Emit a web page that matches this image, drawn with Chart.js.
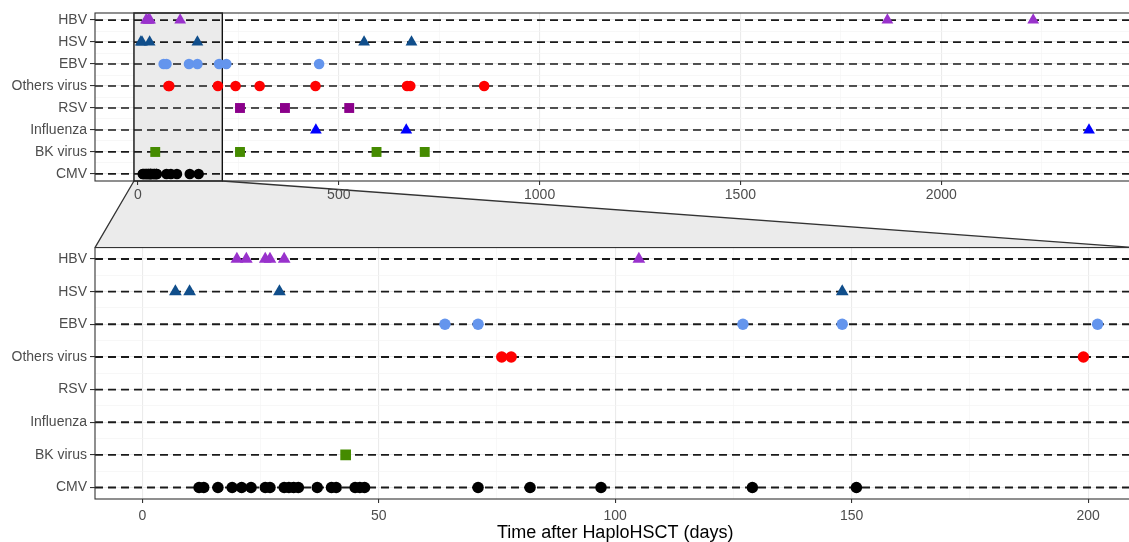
<!DOCTYPE html>
<html>
<head>
<meta charset="utf-8">
<script src="https://cdn.jsdelivr.net/npm/chart.js@4.4.1/dist/chart.umd.min.js"></script>
<style>
  html, body { margin: 0; padding: 0; background: #fff; overflow: hidden; }
  #wrap { position: relative; width: 1129px; height: 542px; overflow: hidden; }
  canvas { position: absolute; left: 0; }
  #link { top: 0; }
  #topChart { top: 0; }
  #bottomChart { top: 240px; }
</style>
</head>
<body>
<div id="wrap">
  <canvas id="link" width="1143" height="542"></canvas>
  <canvas id="topChart" width="1143" height="210"></canvas>
  <canvas id="bottomChart" width="1143" height="302"></canvas>
</div>
<script>
// rows from bottom (y=1) to top (y=8)
const rowLabels = ['CMV', 'BK virus', 'Influenza', 'RSV', 'Others virus', 'EBV', 'HSV', 'HBV']

// days after HaploHSCT for each infection
const cmvDays = [12, 13, 16, 19, 21, 23, 26, 27, 30, 31, 32, 33, 37, 40, 41, 45, 46, 47, 71, 82, 97, 129, 151]
const bkDays = [43, 254, 594, 714]
const influenzaDays = [443, 668, 2368]
const rsvDays = [254, 366, 526]
const othersDays = [76, 78, 199, 243, 303, 442, 670, 678, 862]
const ebvDays = [64, 71, 127, 148, 202, 220, 451]
const hsvDays = [7, 10, 29, 148, 563, 681]
const hbvDays = [20, 22, 26, 27, 30, 105, 1866, 2229]

const topTicks = [0, 500, 1000, 1500, 2000]
const topMinor = [250, 750, 1250, 1750, 2250]
const bottomTicks = [0, 50, 100, 150, 200]
const bottomMinor = [25, 75, 125, 175]

const topRange = [-107, 2485]
const zoomRange = [-10, 210]

const dayLists = [cmvDays, bkDays, influenzaDays, rsvDays, othersDays, ebvDays, hsvDays, hbvDays]
const colors = ['#000000', '#458B00', '#0000FF', '#8B008B', '#FF0000', '#6495ED', '#104E8B', '#9932CC']
const shapes = ['circle', 'rect', 'triangle', 'rect', 'circle', 'circle', 'triangle', 'triangle']

const FONT = "Arial, 'Liberation Sans', sans-serif"

function radiusFor(shape, big) {
    let r = shape == 'triangle' ? 6.8 : (shape == 'rect' ? 7 : 5.3)
    return big ? r * 1.08 : r
}

function makeDatasets(xr, big) {
    let ds = []
    rowLabels.forEach((name, i) => {
        ds.push({
            data: [{ x: xr[0], y: i + 1 }, { x: xr[1], y: i + 1 }],
            showLine: true,
            borderColor: '#1a1a1a',
            borderWidth: big ? 1.9 : 1.7,
            borderDash: [8, 5],
            pointRadius: 0,
            order: 2
        })
    })
    rowLabels.forEach((name, i) => {
        ds.push({
            label: name,
            data: dayLists[i].map(d => ({ x: d, y: i + 1 })),
            backgroundColor: colors[i],
            borderWidth: 0,
            pointStyle: shapes[i],
            pointRadius: radiusFor(shapes[i], big),
            order: 1
        })
    })
    return ds
}

const panelBorder = {
    id: 'panelBorder',
    afterDraw(chart) {
        const a = chart.chartArea
        const ctx = chart.ctx
        ctx.save()
        ctx.strokeStyle = '#333'
        ctx.lineWidth = 1.1
        ctx.strokeRect(a.left, a.top, a.right - a.left, a.bottom - a.top)
        ctx.restore()
    }
}

const zoomBox = {
    id: 'zoomBox',
    beforeDatasetsDraw(chart) {
        const a = chart.chartArea
        const x = chart.scales.x
        const x0 = x.getPixelForValue(zoomRange[0])
        const x1 = x.getPixelForValue(zoomRange[1])
        const ctx = chart.ctx
        ctx.save()
        ctx.fillStyle = '#ebebeb'
        ctx.fillRect(x0, a.top, x1 - x0, a.bottom - a.top)
        ctx.strokeStyle = '#111'
        ctx.lineWidth = 1.4
        ctx.strokeRect(x0, a.top, x1 - x0, a.bottom - a.top)
        ctx.restore()
    }
}

function xAxis(range, majors, minors, height, withTitle, pad) {
    return {
        type: 'linear',
        min: range[0],
        max: range[1],
        afterBuildTicks: axis => {
            axis.ticks = majors.concat(minors).sort((a, b) => a - b).map(v => ({ value: v }))
        },
        afterFit: axis => {
            axis.height = height
            axis.paddingLeft = 0
            axis.paddingRight = 0
        },
        border: { display: false },
        grid: {
            color: c => majors.includes(c.tick.value) ? '#ebebeb' : '#f5f5f5',
            lineWidth: c => majors.includes(c.tick.value) ? 1.1 : 0.7,
            tickColor: c => majors.includes(c.tick.value) ? '#333' : 'rgba(0,0,0,0)',
            tickLength: 4,
            tickWidth: 1.1
        },
        ticks: {
            autoSkip: false,
            maxRotation: 0,
            padding: pad,
            color: '#4d4d4d',
            font: { family: FONT, size: 14 },
            callback: v => majors.includes(v) ? String(v) : ''
        },
        title: {
            display: withTitle,
            text: 'Time after HaploHSCT (days)',
            color: '#000',
            font: { family: FONT, size: 18, lineHeight: 1 },
            padding: { top: 0, bottom: 0 }
        }
    }
}

function yAxis(min, max) {
    return {
        type: 'linear',
        min: min,
        max: max,
        afterBuildTicks: axis => {
            let t = []
            for (let i = 1; i <= rowLabels.length; i++) {
                t.push({ value: i })
                if (i < rowLabels.length) t.push({ value: i + 0.5 })
            }
            axis.ticks = t
        },
        afterFit: axis => {
            axis.width = 95
            axis.paddingTop = 0
            axis.paddingBottom = 0
        },
        border: { display: false },
        grid: {
            color: c => Number.isInteger(c.tick.value) ? '#ebebeb' : '#f3f3f3',
            lineWidth: c => Number.isInteger(c.tick.value) ? 1.1 : 0.7,
            tickColor: c => Number.isInteger(c.tick.value) ? '#333' : 'rgba(0,0,0,0)',
            tickLength: 5,
            tickWidth: 1.1
        },
        ticks: {
            autoSkip: false,
            padding: 3,
            color: '#4d4d4d',
            font: { family: FONT, size: 14 },
            callback: v => Number.isInteger(v) ? rowLabels[v - 1] : ''
        }
    }
}

const topChart = new Chart(document.getElementById('topChart'), {
    type: 'scatter',
    data: { datasets: makeDatasets(topRange, false) },
    options: {
        responsive: false,
        animation: false,
        devicePixelRatio: 1,
        layout: { padding: { top: 13, right: 3, left: 0, bottom: 0 } },
        plugins: { legend: { display: false }, tooltip: { enabled: false } },
        scales: {
            x: xAxis(topRange, topTicks, topMinor, 29, false, 2),
            y: yAxis(0.68, 8.32)
        }
    },
    plugins: [zoomBox, panelBorder]
})

const bottomChart = new Chart(document.getElementById('bottomChart'), {
    type: 'scatter',
    data: { datasets: makeDatasets(zoomRange, true) },
    options: {
        responsive: false,
        animation: false,
        devicePixelRatio: 1,
        layout: { padding: { top: 7, right: 3, left: 0, bottom: 0 } },
        plugins: { legend: { display: false }, tooltip: { enabled: false } },
        scales: {
            x: xAxis(zoomRange, bottomTicks, bottomMinor, 43, true, 5),
            y: yAxis(0.65, 8.35)
        }
    },
    plugins: [panelBorder]
})

// the grey band joining the zoom box to the lower panel
const link = document.getElementById('link').getContext('2d')
const tA = topChart.chartArea
const bA = bottomChart.chartArea
const zx0 = topChart.scales.x.getPixelForValue(zoomRange[0])
const zx1 = topChart.scales.x.getPixelForValue(zoomRange[1])
const yTop = tA.bottom
const yBot = 240 + bA.top
link.beginPath()
link.moveTo(zx0, yTop)
link.lineTo(zx1, yTop)
link.lineTo(bA.right, yBot)
link.lineTo(bA.left, yBot)
link.closePath()
link.fillStyle = '#ebebeb'
link.fill()
link.strokeStyle = '#333'
link.lineWidth = 1.3
link.beginPath()
link.moveTo(zx0, yTop)
link.lineTo(bA.left, yBot)
link.moveTo(zx1, yTop)
link.lineTo(bA.right, yBot)
link.stroke()
</script>
</body>
</html>
